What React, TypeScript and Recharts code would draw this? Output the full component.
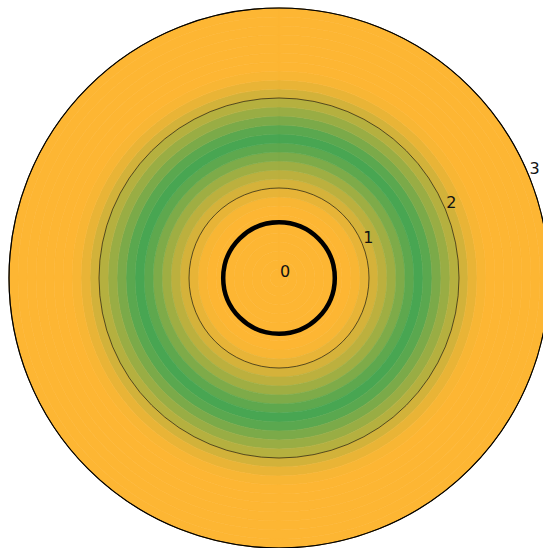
import React from 'react';
import {
  RadialBarChart,
  RadialBar,
  RadarChart,
  PolarGrid,
  PolarAngleAxis,
  PolarRadiusAxis,
  Cell,
} from 'recharts';

// Inner edge of each 0.1-wide radial bin, from the centre outwards
const ringStarts = [
  0.0, 0.1, 0.2, 0.3, 0.4, 0.5, 0.6, 0.7, 0.8, 0.9,
  1.0, 1.1, 1.2, 1.3, 1.4, 1.5, 1.6, 1.7, 1.8, 1.9,
  2.0, 2.1, 2.2, 2.3, 2.4, 2.5, 2.6, 2.7, 2.8, 2.9,
];

// Intensity in each bin (0 = background level, 1 = peak)
const ringValues = [
  0, 0, 0, 0, 0, 0, 0, 0, 0.03, 0.12,
  0.22, 0.36, 0.52, 0.7, 0.88, 1.0, 0.9, 0.72, 0.55, 0.4,
  0.24, 0.11, 0.03, 0, 0, 0, 0, 0, 0, 0,
];

// Radial axis ticks and the highlighted reference radius
const radialTicks = [0, 1, 2, 3];
const markerRadius = [0.62];
const frameRadius = [3];
const radialDomain = [0, 3];

// Colour map: low intensity (orange) -> high intensity (green)
const LOW = [253, 182, 51];
const HIGH = [72, 166, 82];
const colorFor = (v: number) => {
  const c = LOW.map((lo, k) => Math.round(lo + (HIGH[k] - lo) * v));
  return `rgb(${c[0]},${c[1]},${c[2]})`;
};

// Each ring sweeps a full turn
const rings = ringStarts.map((start, i) => ({
  ring: start.toFixed(1),
  value: ringValues[i],
  sweep: 1,
}));

const W = 543;
const H = 548;
const CX = 279;
const CY = 278;
const R = 270;
const MARGIN = { top: 0, right: 0, bottom: 0, left: 0 };

const RadiusTick = (props: any) => {
  const { x, y, payload } = props;
  return (
    <text
      x={x + 1}
      y={y - 1}
      fontSize={16}
      fontFamily="DejaVu Sans, sans-serif"
      fill="#111"
      textAnchor="start"
    >
      {payload.value}
    </text>
  );
};

const frame: React.CSSProperties = {
  position: 'fixed',
  left: 0,
  top: 0,
  width: W,
  height: H,
  overflow: 'hidden',
  background: '#fff',
};
const layer: React.CSSProperties = { position: 'absolute', left: 0, top: 0 };

export default function App() {
  return (
    <div style={frame}>
      <div style={layer}>
        <RadialBarChart
          width={W}
          height={H}
          cx={CX}
          cy={CY}
          innerRadius={0}
          outerRadius={R}
          data={rings}
          startAngle={90}
          endAngle={-270}
          barCategoryGap={0}
          barGap={0}
          margin={MARGIN}
        >
          <PolarAngleAxis type="number" domain={[0, 1]} tick={false} axisLine={false} />
          <PolarRadiusAxis type="category" dataKey="ring" tick={false} axisLine={false} tickLine={false} />
          <RadialBar dataKey="sweep" isAnimationActive={false}>
            {rings.map((r) => (
              <Cell key={r.ring} fill={colorFor(r.value)} stroke={colorFor(r.value)} strokeWidth={0.6} />
            ))}
          </RadialBar>
        </RadialBarChart>
      </div>
      <div style={layer}>
        <RadarChart
          width={W}
          height={H}
          cx={CX}
          cy={CY}
          innerRadius={0}
          outerRadius={R}
          data={rings}
          margin={MARGIN}
        >
          <PolarAngleAxis dataKey="ring" tick={false} axisLine={false} tickLine={false} />
          <PolarGrid
            gridType="circle"
            radialLines={false}
            radiusAxisId="grid"
            stroke="#000"
            strokeOpacity={0.6}
            strokeWidth={1}
          />
          <PolarGrid
            gridType="circle"
            radialLines={false}
            radiusAxisId="frame"
            stroke="#000"
            strokeWidth={1.2}
          />
          <PolarGrid
            gridType="circle"
            radialLines={false}
            radiusAxisId="marker"
            stroke="#000"
            strokeWidth={4.5}
          />
          <PolarRadiusAxis
            radiusAxisId="grid"
            type="number"
            domain={radialDomain}
            allowDataOverflow
            ticks={radialTicks}
            angle={22.5}
            axisLine={false}
            tickLine={false}
            tick={RadiusTick}
          />
          <PolarRadiusAxis
            radiusAxisId="frame"
            type="number"
            domain={radialDomain}
            allowDataOverflow
            ticks={frameRadius}
            axisLine={false}
            tickLine={false}
            tick={false}
          />
          <PolarRadiusAxis
            radiusAxisId="marker"
            type="number"
            domain={radialDomain}
            allowDataOverflow
            ticks={markerRadius}
            axisLine={false}
            tickLine={false}
            tick={false}
          />
        </RadarChart>
      </div>
    </div>
  );
}
